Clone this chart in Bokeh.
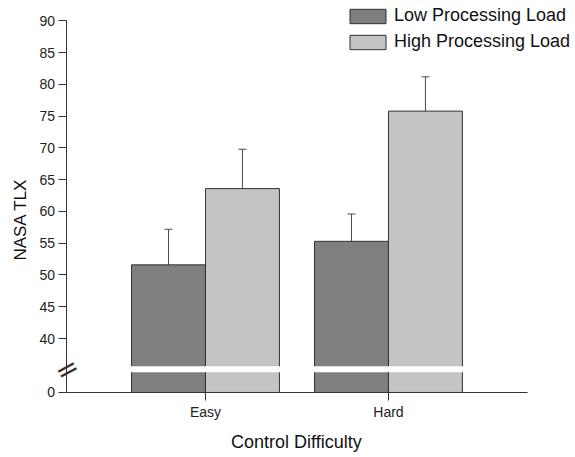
import math
from bokeh.plotting import figure
from bokeh.models import (ColumnDataSource, Range1d, FixedTicker, Whisker, TeeHead,
                          Legend, LegendItem, Label)
from bokeh.embed import file_html
from bokeh.resources import INLINE

# ---- data ----
categories = ["Easy", "Hard"]
low_load = [51.6, 55.3]
low_err = [5.6, 4.3]
high_load = [63.6, 75.8]
high_err = [6.2, 5.4]
y_ticks = [0, 40, 45, 50, 55, 60, 65, 70, 75, 80, 85, 90]
x_title = "Control Difficulty"
y_title = "NASA TLX"

# ---- broken axis: values below 40 are compressed into [BASE, 40] ----
BASE = 31.5
BREAK_AT = 35.15

def disp(v):
    return v if v >= 40 else BASE + v * (40 - BASE) / 40.0

FONT = "Liberation Sans"
DARK = "#7f7f7f"
LIGHT = "#c4c4c4"
EDGE = "#2f3333"
AXIS = "#3a3030"

xc = [i + 1 for i in range(len(categories))]
W = 0.404

src_low = ColumnDataSource(dict(
    x=[c - W / 2 for c in xc], top=low_load, bottom=[disp(0)] * len(xc),
    upper=[v + e for v, e in zip(low_load, low_err)],
    lower=[v - e for v, e in zip(low_load, low_err)]))
src_high = ColumnDataSource(dict(
    x=[c + W / 2 for c in xc], top=high_load, bottom=[disp(0)] * len(xc),
    upper=[v + e for v, e in zip(high_load, high_err)],
    lower=[v - e for v, e in zip(high_load, high_err)]))

# the frame covers the whole canvas; axes are drawn at fixed locations in it
x_start, x_end = -0.1202, 3.022
x_axis_lo, x_axis_hi = 0.243, 2.760
y_start, y_end = 21.58, 93.22
y_axis_hi = 90

p = figure(frame_width=575, frame_height=455, output_backend="svg",
           toolbar_location=None, x_range=Range1d(x_start, x_end),
           y_range=Range1d(y_start, y_end), min_border=0)
p.outline_line_color = None
p.grid.visible = False
p.background_fill_color = "white"

r_low = p.vbar(x="x", top="top", bottom="bottom", width=W, source=src_low,
               fill_color=DARK, line_color=EDGE, line_width=1)
r_high = p.vbar(x="x", top="top", bottom="bottom", width=W, source=src_high,
                fill_color=LIGHT, line_color=EDGE, line_width=1)

# white break band across the bars
p.hbar(y=[BREAK_AT], height=0.95, left=[x_axis_lo], right=[x_axis_hi],
       fill_color="white", line_color=None)

for s in (src_low, src_high):
    w = Whisker(base="x", upper="upper", lower="lower", source=s,
                line_color="#4a4a4a", line_width=1,
                upper_head=TeeHead(size=8, line_color="#4a4a4a", line_width=1),
                lower_head=TeeHead(size=8, line_color="#4a4a4a", line_width=1))
    p.add_layout(w)

# axes
p.xaxis.ticker = FixedTicker(ticks=xc)
p.xaxis.major_label_overrides = {c: n for c, n in zip(xc, categories)}
p.xaxis.bounds = (x_axis_lo, x_axis_hi)
p.xaxis.fixed_location = disp(0)
p.yaxis.ticker = FixedTicker(ticks=[disp(t) for t in y_ticks])
p.yaxis.major_label_overrides = {disp(t): str(t) for t in y_ticks}
p.yaxis.bounds = (disp(0), y_axis_hi)
p.yaxis.fixed_location = x_axis_lo
for ax in (p.xaxis, p.yaxis):
    ax.axis_line_color = AXIS
    ax.major_tick_line_color = AXIS
    ax.major_tick_out = 8
    ax.major_tick_in = 0
    ax.minor_tick_line_color = None
    ax.major_label_text_font = FONT
    ax.major_label_text_font_size = "14px"
    ax.major_label_text_color = "#222222"
p.xaxis.major_label_standoff = 4
p.yaxis.major_label_standoff = 4

# axis break marks
p.add_layout(Label(x=x_axis_lo, y=BREAK_AT, text="=", angle=0.5,
                   text_align="center", text_baseline="middle",
                   text_font="DejaVu Sans", text_font_size="28px",
                   text_color=AXIS))

# axis titles
p.add_layout(Label(x=1.497, y=23.78, text=x_title, text_align="center",
                   text_baseline="middle", text_font=FONT,
                   text_font_size="18px", text_color="#111111"))
p.add_layout(Label(x=-0.0136, y=58.74, text=y_title, angle=math.pi / 2,
                   text_align="center", text_baseline="middle",
                   text_font=FONT, text_font_size="17px", text_color="#111111"))

legend = Legend(items=[LegendItem(label="Low Processing Load", renderers=[r_low]),
                       LegendItem(label="High Processing Load", renderers=[r_high])],
                location=(345, 403), orientation="vertical",
                glyph_width=45, glyph_height=18, label_height=18,
                spacing=5, padding=2, margin=0, label_standoff=4,
                border_line_color=None, background_fill_alpha=0,
                label_text_font=FONT, label_text_font_size="18px",
                label_text_color="#111111")
p.add_layout(legend)

open("out.html", "w").write(file_html(p, INLINE))
